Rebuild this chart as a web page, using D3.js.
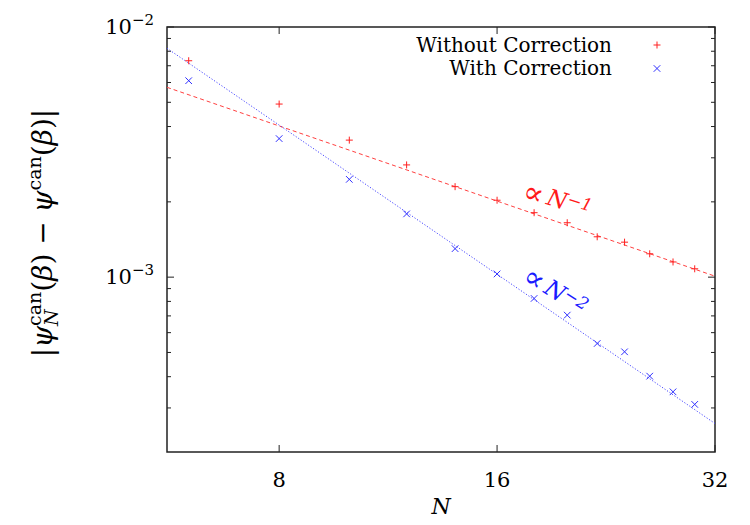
<!DOCTYPE html>
<html>
<head>
<meta charset="utf-8">
<script src="https://cdn.jsdelivr.net/npm/d3@7"></script>
<style>
  body { margin: 0; background: #fff; }
</style>
</head>
<body>
<div id="my_dataviz"></div>
<script>
// data
const sizes = [6, 8, 10, 12, 14, 16, 18, 20, 22, 24, 26, 28, 30];
const withoutCorrection = [7.33e-3, 4.92e-3, 3.53e-3, 2.81e-3, 2.30e-3, 2.03e-3, 1.81e-3,
                           1.65e-3, 1.45e-3, 1.38e-3, 1.24e-3, 1.15e-3, 1.08e-3];
const withCorrection = [6.10e-3, 3.58e-3, 2.46e-3, 1.79e-3, 1.30e-3, 1.03e-3, 8.22e-4,
                        7.05e-4, 5.43e-4, 5.03e-4, 4.02e-4, 3.48e-4, 3.10e-4];
// fitted power laws, end points at the plot edges
const fitN = [5.6, 32];
const fitWithout = [5.74e-3, 1.009e-3];
const fitWith = [8.22e-3, 2.60e-4];
const xTicks = [8, 16, 32];
const yMajor = [1e-2, 1e-3];
const yMinor = [3e-4, 4e-4, 5e-4, 6e-4, 7e-4, 8e-4, 9e-4,
                2e-3, 3e-3, 4e-3, 5e-3, 6e-3, 7e-3, 8e-3, 9e-3];
const legendLabels = ["Without Correction", "With Correction"];

const serif = "'DejaVu Serif', serif";

// set the dimensions and margins of the graph
const margin = {top: 27, right: 35, bottom: 73, left: 167},
      width = 750 - margin.left - margin.right,
      height = 525 - margin.top - margin.bottom;

const svg = d3.select("#my_dataviz")
  .append("svg")
  .attr("width", width + margin.left + margin.right)
  .attr("height", height + margin.top + margin.bottom)
  .attr("font-family", serif)
  .append("g")
  .attr("transform", `translate(${margin.left}, ${margin.top})`);

const x = d3.scaleLog().base(2).domain([5.6, 32]).range([0, width]);
const y = d3.scaleLog().domain([2e-4, 1e-2]).range([height, 0]);

// ticks on all four sides, pointing inwards
const ink = "#222";
function tickMarks(vals, len, axis) {
  vals.forEach(v => {
    if (axis === "x") {
      svg.append("line").attr("x1", x(v)).attr("x2", x(v)).attr("y1", height).attr("y2", height - len).attr("stroke", ink);
      svg.append("line").attr("x1", x(v)).attr("x2", x(v)).attr("y1", 0).attr("y2", len).attr("stroke", ink);
    } else {
      svg.append("line").attr("y1", y(v)).attr("y2", y(v)).attr("x1", 0).attr("x2", len).attr("stroke", ink);
      svg.append("line").attr("y1", y(v)).attr("y2", y(v)).attr("x1", width).attr("x2", width - len).attr("stroke", ink);
    }
  });
}
tickMarks(xTicks, 7, "x");
tickMarks(yMajor, 7, "y");
tickMarks(yMinor, 4, "y");

// x tick labels
svg.append("g").selectAll("text")
  .data(xTicks)
  .join("text")
    .attr("x", d => x(d))
    .attr("y", height + 35)
    .attr("text-anchor", "middle")
    .attr("font-size", 21)
    .text(d => d);

// y tick labels 10^-n
yMajor.forEach(v => {
  const t = svg.append("text")
    .attr("x", -13)
    .attr("y", y(v) + 7)
    .attr("text-anchor", "end")
    .attr("font-size", 21);
  t.append("tspan").text("10");
  t.append("tspan").attr("dy", -9).attr("font-size", 15).text("\u2212" + Math.round(-Math.log10(v)));
});

// frame
svg.append("rect")
  .attr("width", width).attr("height", height)
  .attr("fill", "none").attr("stroke", ink).attr("stroke-width", 1.5);

// fit lines
const fitLine = d3.line().x(d => x(d[0])).y(d => y(d[1]));
svg.append("path")
  .datum(d3.zip(fitN, fitWithout))
  .attr("d", fitLine)
  .attr("fill", "none").attr("stroke", "#ff4040").attr("stroke-width", 1)
  .attr("stroke-dasharray", "4,3");
svg.append("path")
  .datum(d3.zip(fitN, fitWith))
  .attr("d", fitLine)
  .attr("fill", "none").attr("stroke", "#4848ff").attr("stroke-width", 1)
  .attr("stroke-dasharray", "1.2,1.8");

// markers
function plusPath(cx, cy, s) { return `M${cx - s},${cy}H${cx + s}M${cx},${cy - s}V${cy + s}`; }
function crossPath(cx, cy, s) { return `M${cx - s},${cy - s}L${cx + s},${cy + s}M${cx - s},${cy + s}L${cx + s},${cy - s}`; }

svg.append("g").selectAll("path")
  .data(d3.zip(sizes, withoutCorrection))
  .join("path")
    .attr("d", d => plusPath(x(d[0]), y(d[1]), 3.5))
    .attr("stroke", "#ff2020").attr("stroke-width", 1).attr("fill", "none");
svg.append("g").selectAll("path")
  .data(d3.zip(sizes, withCorrection))
  .join("path")
    .attr("d", d => crossPath(x(d[0]), y(d[1]), 3.3))
    .attr("stroke", "#3030ff").attr("stroke-width", 1).attr("fill", "none");

// legend
const legendColors = ["#ff2020", "#3030ff"];
legendLabels.forEach((lab, i) => {
  const ly = 18 + i * 23.5;
  svg.append("text")
    .attr("x", 445).attr("y", ly + 6.5)
    .attr("text-anchor", "end")
    .attr("font-size", 20)
    .text(lab);
  svg.append("path")
    .attr("d", i === 0 ? plusPath(490, ly, 3.5) : crossPath(490, ly, 3.3))
    .attr("stroke", legendColors[i]).attr("stroke-width", 1).attr("fill", "none");
});

// power-law annotations
function annotate(px, py, angle, power, color) {
  const t = svg.append("text")
    .attr("transform", `translate(${px - margin.left}, ${py - margin.top}) rotate(${angle})`)
    .attr("fill", color)
    .attr("font-size", 23);
  t.append("tspan").attr("font-size", 30).attr("dy", 3).text("\u221D");
  t.append("tspan").attr("dx", 4).attr("dy", -3).attr("font-style", "italic").text("N");
  t.append("tspan").attr("dy", -6).attr("font-size", 17).attr("font-style", "italic").text("\u2212" + power);
}
annotate(522, 197, 17, 1, "#ff1a1a");
annotate(522, 279, 32, 2, "#1a1aff");

// axis titles
svg.append("text")
  .attr("x", width / 2)
  .attr("y", height + 62)
  .attr("text-anchor", "middle")
  .attr("font-size", 22)
  .attr("font-style", "italic")
  .text("N");

const ylab = svg.append("text")
  .attr("transform", `translate(${52 - margin.left}, ${233 - margin.top}) rotate(-90)`)
  .attr("text-anchor", "middle")
  .attr("font-size", 28);
ylab.append("tspan").text("|");
ylab.append("tspan").attr("font-style", "italic").text("\u03C8");
const sub = ylab.append("tspan").attr("font-style", "italic").attr("font-size", 19).attr("dy", 6).text("N");
const subW = sub.node().getComputedTextLength();
ylab.append("tspan").attr("font-size", 19).attr("dx", -subW).attr("dy", -17).text("can");
ylab.append("tspan").attr("dy", 11).text("(");
ylab.append("tspan").attr("font-style", "italic").text("\u03B2");
ylab.append("tspan").text(") \u2212 ");
ylab.append("tspan").attr("font-style", "italic").text("\u03C8");
ylab.append("tspan").attr("font-size", 19).attr("dy", -11).text("can");
ylab.append("tspan").attr("dy", 11).text("(");
ylab.append("tspan").attr("font-style", "italic").text("\u03B2");
ylab.append("tspan").text(")|");
</script>
</body>
</html>
